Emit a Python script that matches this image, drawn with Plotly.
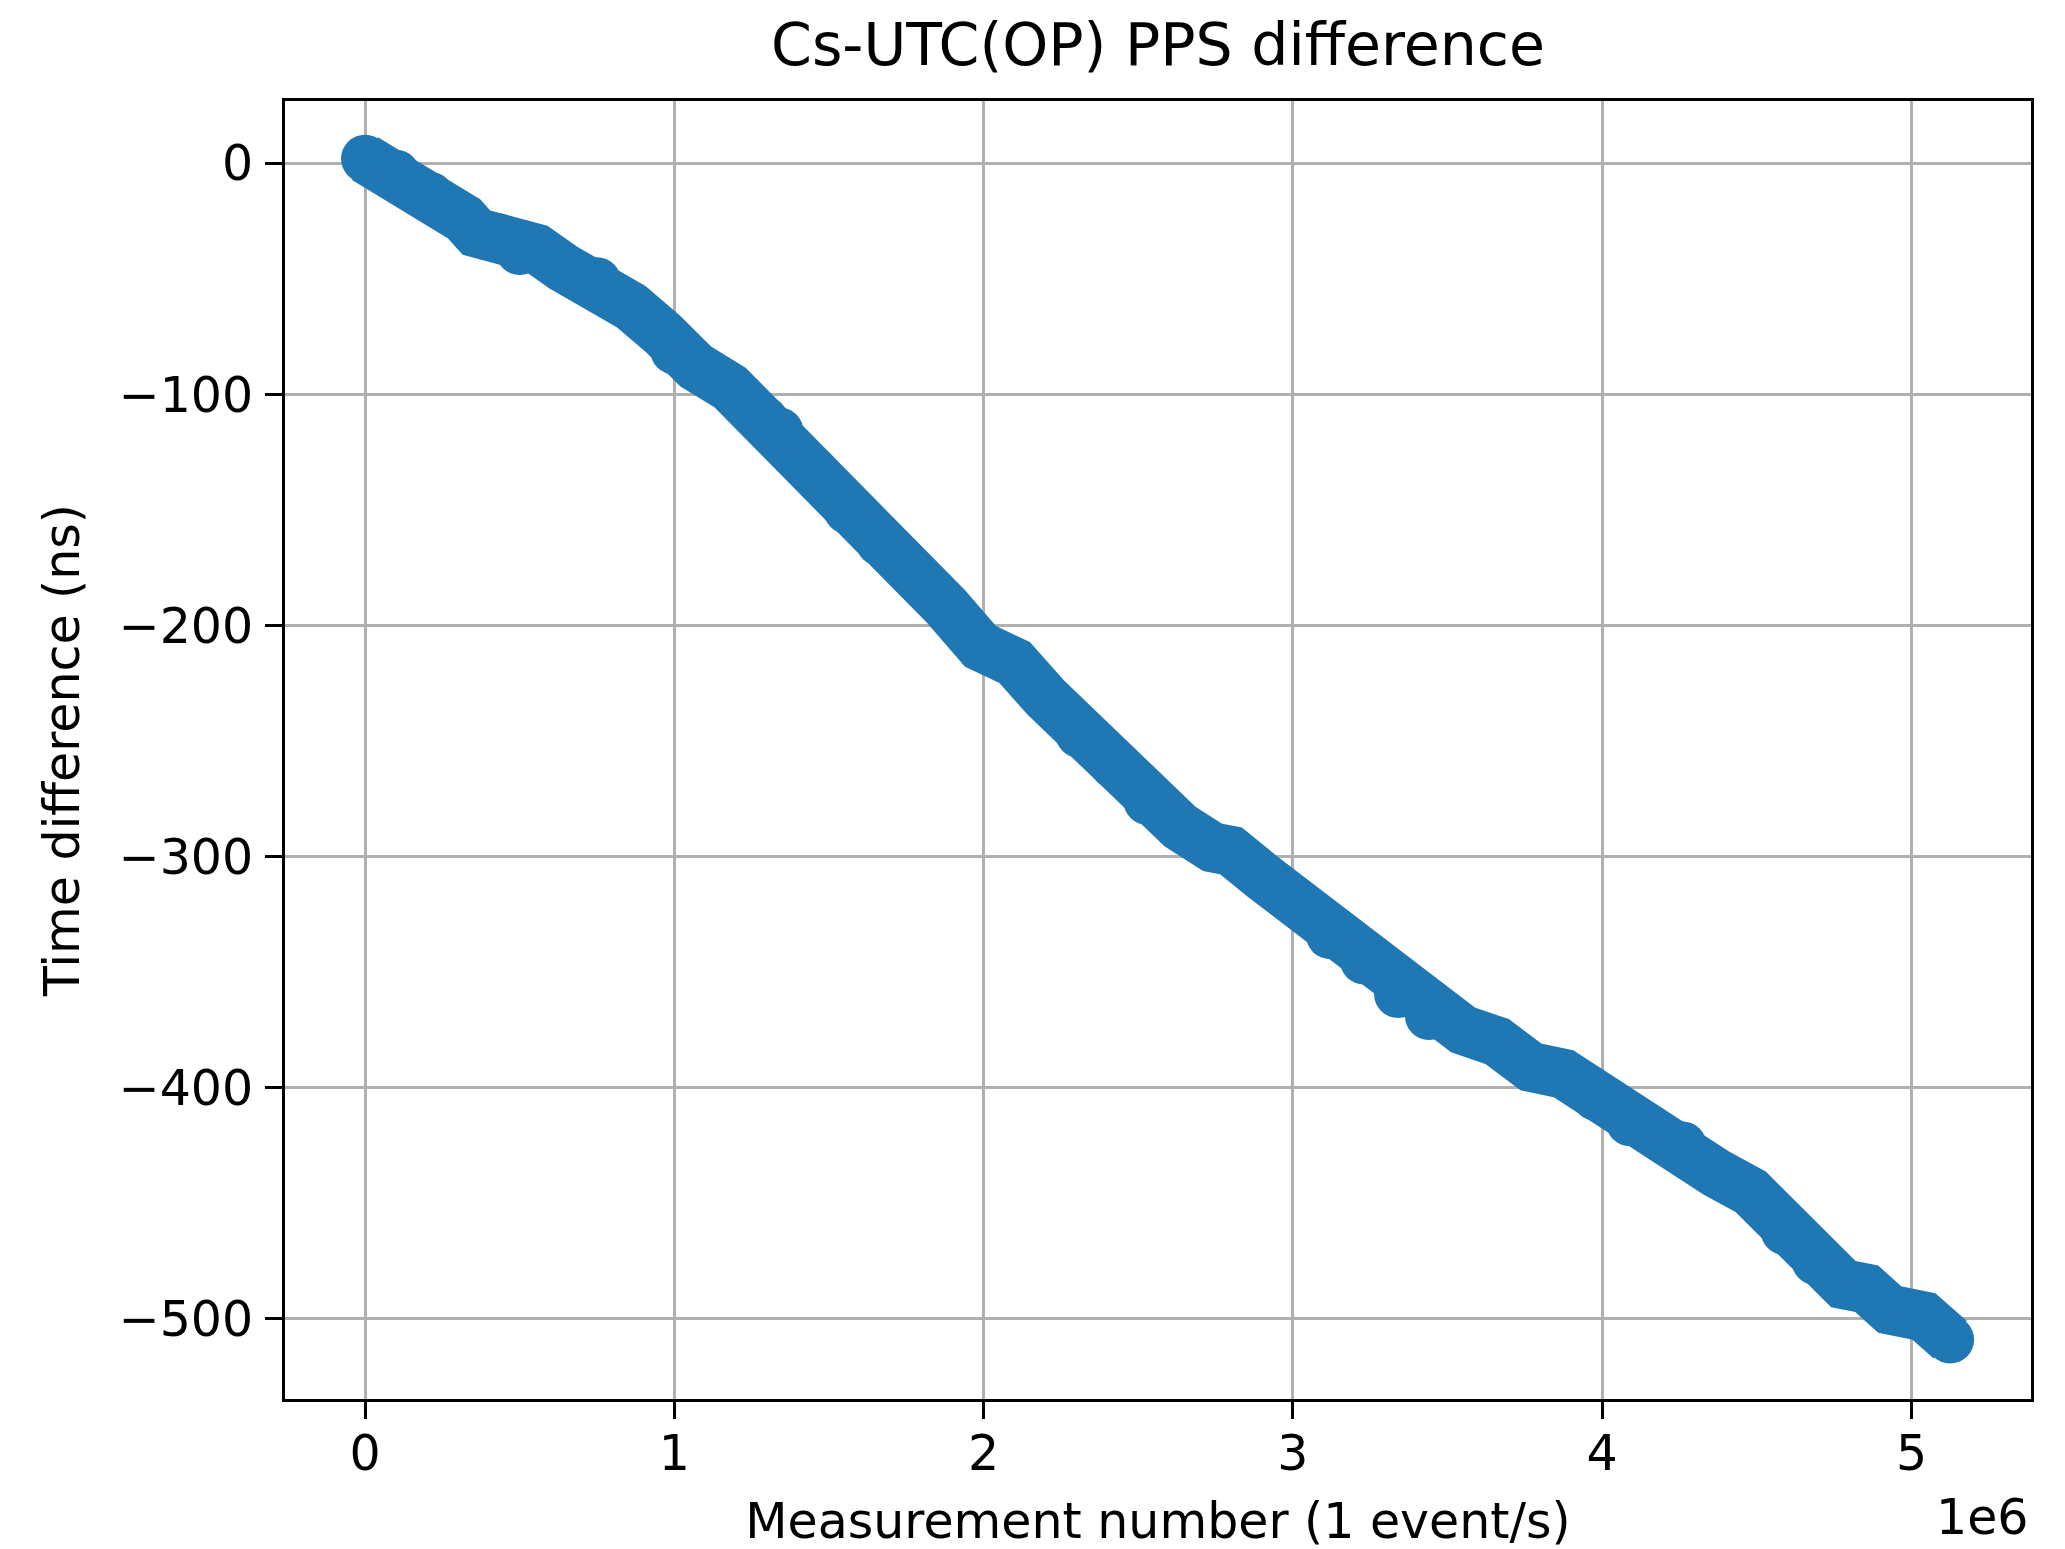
import plotly.graph_objects as go

# Measurement number (events, 1 event/s)
measurement = [0, 100000, 210000, 320000, 360000, 430000, 500000, 555000, 640000, 750000,
               860000, 965000, 1000000, 1070000, 1180000, 1290000, 1340000, 1450000, 1560000,
               1665000, 1770000, 1880000, 1990000, 2100000, 2200000, 2310000, 2420000, 2530000,
               2635000, 2740000, 2800000, 2905000, 3000000, 3120000, 3230000, 3340000, 3440000,
               3550000, 3660000, 3770000, 3875000, 3980000, 4090000, 4200000, 4260000, 4370000,
               4480000, 4590000, 4690000, 4780000, 4855000, 4930000, 5040000, 5125000]
# Time difference (ns)
time_diff = [2, -4.5, -14, -24, -30, -32, -38, -37, -45, -51,
             -62, -74, -81, -88, -97, -111, -116, -133, -150,
             -164, -177, -192, -209, -216, -231, -247, -260, -276,
             -287, -296, -297.5, -309, -319, -334, -345, -359.5, -369,
             -375, -380, -391, -394, -404, -415, -422, -425, -437,
             -445, -462, -475, -485, -487, -496, -499, -509]

x_tickvals = [0, 1000000, 2000000, 3000000, 4000000, 5000000]
x_ticktext = ["0", "1", "2", "3", "4", "5"]
y_tickvals = [0, -100, -200, -300, -400, -500]
y_ticktext = ["0", "\u2212100", "\u2212200", "\u2212300", "\u2212400", "\u2212500"]

FONT = "DejaVu Sans"
BLUE = "#1f77b4"
TICK_SIZE = 49
TITLE_SIZE = 58.5

fig = go.Figure()
fig.add_trace(go.Scatter(
    x=measurement, y=time_diff, mode="lines+markers",
    line=dict(color=BLUE, width=50),
    marker=dict(color=BLUE, size=48, line=dict(width=0)),
    showlegend=False,
))

axis_common = dict(
    showline=True, linecolor="black", linewidth=3, mirror=True,
    showgrid=True, gridcolor="#b0b0b0", gridwidth=2.5,
    ticks="outside", ticklen=17, tickwidth=3, tickcolor="black",
    tickfont=dict(family=FONT, size=TICK_SIZE, color="black"),
    zeroline=False, automargin=False,
)

fig.update_layout(
    width=2065, height=1549,
    paper_bgcolor="white", plot_bgcolor="white",
    margin=dict(l=277, r=42, t=93, b=158),
    font=dict(family=FONT, color="black"),
    title=dict(text="Cs-UTC(OP) PPS difference", x=0.5, xref="paper",
               y=1 - 37 / 1549, yref="container", yanchor="middle", xanchor="center",
               font=dict(family=FONT, size=TITLE_SIZE, color="black")),
    xaxis=dict(range=[-258700, 5386400], tickvals=x_tickvals, ticktext=x_ticktext,
               ticklabelstandoff=-8,
               title=dict(text="Measurement number (1 event/s)", standoff=23,
                          font=dict(family=FONT, size=TICK_SIZE, color="black")),
               **axis_common),
    yaxis=dict(range=[-534.7, 26.96], tickvals=y_tickvals, ticktext=y_ticktext,
               ticklabelstandoff=2,
               title=dict(text="Time difference (ns)", standoff=24,
                          font=dict(family=FONT, size=TICK_SIZE, color="black")),
               **axis_common),
    annotations=[dict(text="1e6", xref="paper", yref="paper", x=1.0, y=-0.0915,
                      xanchor="right", yanchor="middle", showarrow=False,
                      font=dict(family=FONT, size=TICK_SIZE, color="black"))],
)

fig.write_html("out.html")
